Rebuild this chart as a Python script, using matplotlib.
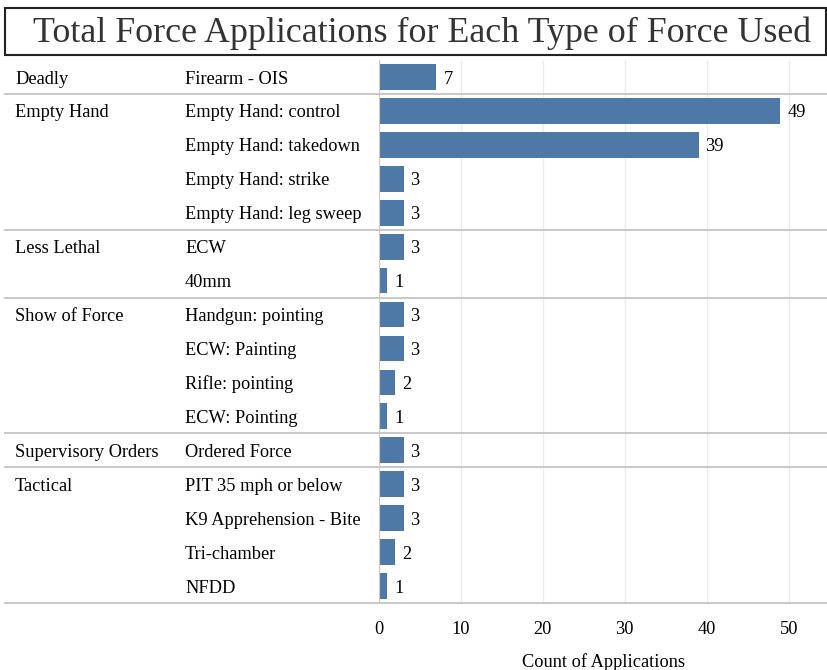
import numpy as np
import matplotlib.pyplot as plt
from matplotlib.patches import Rectangle
from matplotlib.transforms import blended_transform_factory, offset_copy

plt.rcParams['font.family'] = ['Liberation Serif', 'DejaVu Serif']

# dados
groups = ["Deadly", "Empty Hand", "Empty Hand", "Empty Hand", "Empty Hand",
          "Less Lethal", "Less Lethal",
          "Show of Force", "Show of Force", "Show of Force", "Show of Force",
          "Supervisory Orders",
          "Tactical", "Tactical", "Tactical", "Tactical"]
force_types = ["Firearm - OIS", "Empty Hand: control", "Empty Hand: takedown",
               "Empty Hand: strike", "Empty Hand: leg sweep", "ECW", "40mm",
               "Handgun: pointing", "ECW: Painting", "Rifle: pointing",
               "ECW: Pointing", "Ordered Force", "PIT 35 mph or below",
               "K9 Apprehension - Bite", "Tri-chamber", "NFDD"]
counts = [7, 49, 39, 3, 3, 3, 1, 3, 3, 2, 1, 3, 3, 3, 2, 1]
xticks = [0, 10, 20, 30, 40, 50]

W, H = 828, 670
BAR_COLOR = '#4e79a7'
LINE_COLOR = '#c8c8c8'
FS = 13.2

fig = plt.figure(figsize=(W / 100, H / 100), dpi=100)

# eixo do grafico (em pixels -> fração da figura)
left, right, top, bottom = 379, 828, 60, 603
ax = fig.add_axes([left / W, 1 - bottom / H, (right - left) / W, (bottom - top) / H])

y = np.arange(len(counts))
ax.barh(y, counts, height=0.76, color=BAR_COLOR, zorder=3)
ax.set_xlim(0, 54.8)
ax.set_ylim(len(counts) - 0.5, -0.5)

for yi, c in zip(y, counts):
    ax.annotate(str(c), (c, yi), xytext=(5, -1.5), textcoords='offset points',
                va='center', ha='left', fontsize=FS, color='black')

for s in ax.spines.values():
    s.set_visible(False)
ax.axvline(0, color=LINE_COLOR, lw=1.6, zorder=4)
for xt in xticks[1:]:
    ax.axvline(xt, color='#ececec', lw=1.0, zorder=1)

ax.set_yticks([])
ax.set_xticks(xticks)
ax.tick_params(axis='x', length=0, pad=13, labelsize=FS, labelcolor='black')
ax.set_xlabel('Count of Applications', fontsize=FS, labelpad=11, color='black')

# rótulos da esquerda
trans = blended_transform_factory(fig.transFigure, ax.transData)
trans = offset_copy(trans, fig=fig, x=0, y=-1.5, units='points')
prev = None
for i, (g, t) in enumerate(zip(groups, force_types)):
    if g != prev:
        fig.text(15 / W, i, g, transform=trans, va='center', ha='left', fontsize=FS)
    fig.text(185 / W, i, t, transform=trans, va='center', ha='left', fontsize=FS)
    prev = g

# linhas separando grupos
x0 = (5 - left) / (right - left)
for i in range(len(groups)):
    if i == len(groups) - 1 or groups[i + 1] != groups[i]:
        ax.axhline(i + 0.5, xmin=x0, xmax=1, color=LINE_COLOR, lw=1.4,
                   clip_on=False, zorder=5)

# título com moldura
fig.patches.append(Rectangle((5 / W, 1 - 55 / H), 821 / W, 47 / H,
                             transform=fig.transFigure, fill=False,
                             edgecolor='#222222', lw=1.5))
fig.text(422 / W, 1 - 33 / H, 'Total Force Applications for Each Type of Force Used',
         ha='center', va='center', fontsize=25.8, color='#333333')

fig.savefig('out.png', dpi=100)
